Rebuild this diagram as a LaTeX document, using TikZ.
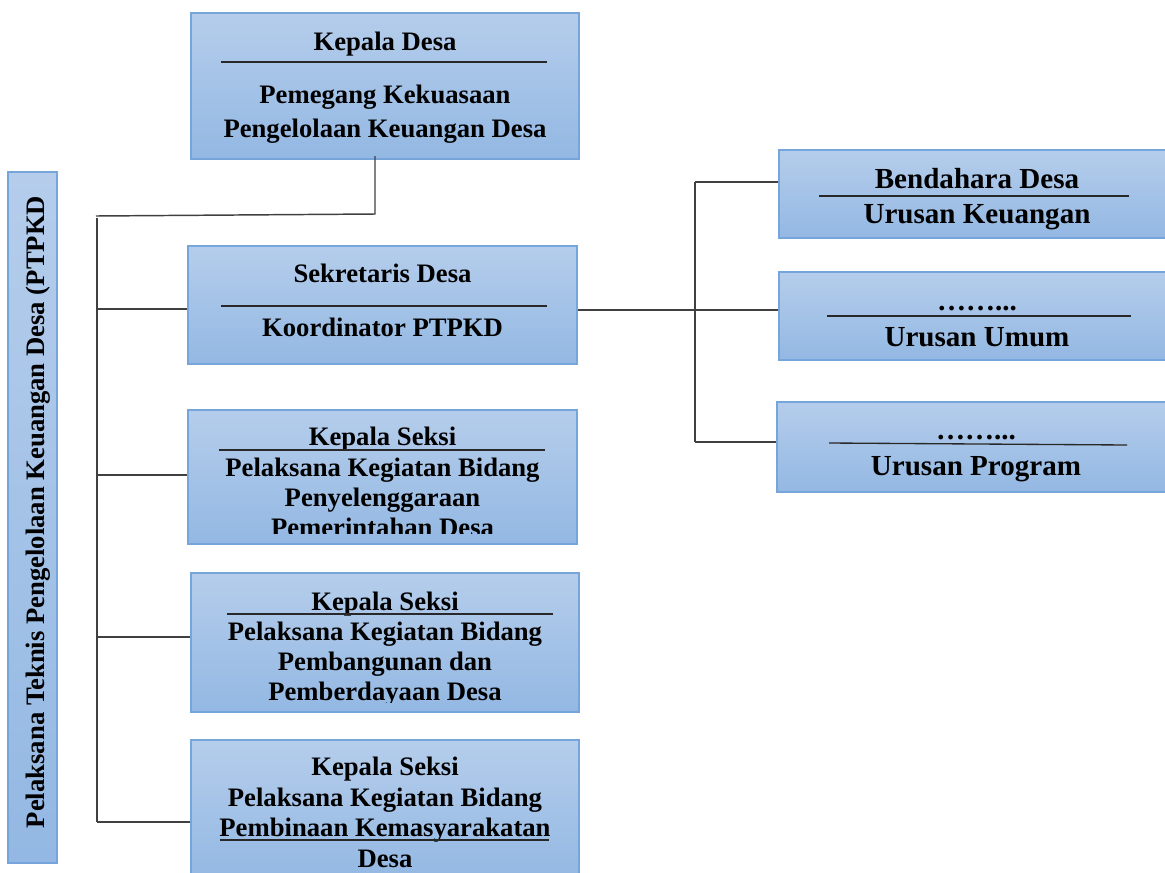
\documentclass[tikz,border=0pt]{standalone}
\usepackage{fontspec}
\setmainfont{Liberation Serif}
\definecolor{boxtop}{RGB}{181,205,235}
\definecolor{boxbot}{RGB}{147,184,227}
\definecolor{boxedge}{RGB}{118,165,219}
\definecolor{wirecol}{RGB}{64,64,64}
\definecolor{rulecol}{RGB}{40,40,40}
\begin{document}
\begin{tikzpicture}[x=0.75pt,y=-0.75pt,
  box/.style={rectangle, inner sep=0pt, draw=boxedge, line width=1.1pt,
              top color=boxtop, bottom color=boxbot},
  ltxt/.style={anchor=base, inner sep=0pt, font=\fontsize{20}{24}\selectfont\bfseries},
  rtxt/.style={anchor=base, inner sep=0pt, font=\fontsize{21.8}{26}\selectfont\bfseries},
  sepline/.style={draw=rulecol, line width=1pt},
  link/.style={draw=wirecol, line width=1.1pt}]
\useasboundingbox (0,0) rectangle (1165,872);

% side banner
\node[box, minimum width=36.75pt, minimum height=518.25pt] (pt) at (32.5,517.5) {};
\node[ltxt, rotate=90] (ptt) at (45,512) {Pelaksana Teknis Pengelolaan Keuangan Desa (PTPKD};

% head of village
\node[box, minimum width=291pt, minimum height=109.5pt] (kd) at (385,86) {};
\node[ltxt] (kd1) at (385,50) {Kepala Desa};
\draw[sepline] (221,62) -- (547,62);
\node[ltxt] (kd2) at (385,103) {Pemegang Kekuasaan};
\node[ltxt] (kd3) at (385,137) {Pengelolaan Keuangan Desa};

% secretary
\node[box, minimum width=291.75pt, minimum height=88.5pt] (sd) at (382.5,305) {};
\node[ltxt] (sd1) at (382.5,282) {Sekretaris Desa};
\draw[sepline] (221,306) -- (547,306);
\node[ltxt] (sd2) at (382.5,336) {Koordinator PTPKD};

% section head: government affairs
\node[box, minimum width=291.75pt, minimum height=100.5pt] (ks1) at (382.5,477) {};
\begin{scope}
  \clip (188,410) rectangle (577,533);
  \node[ltxt] (ks1a) at (382.5,445) {Kepala Seksi};
  \node[ltxt] (ks1b) at (382.5,476) {Pelaksana Kegiatan Bidang};
  \node[ltxt] (ks1c) at (382.5,506) {Penyelenggaraan};
  \node[ltxt] (ks1d) at (382.5,536) {Pemerintahan Desa};
\end{scope}
\draw[sepline] (219,450) -- (545,450);

% section head: development
\node[box, minimum width=291pt, minimum height=104.25pt] (ks2) at (385,642.5) {};
\begin{scope}
  \clip (191,573) rectangle (579,702);
  \node[ltxt] (ks2a) at (385,610) {Kepala Seksi};
  \node[ltxt] (ks2b) at (385,640) {Pelaksana Kegiatan Bidang};
  \node[ltxt] (ks2c) at (385,670) {Pembangunan dan};
  \node[ltxt] (ks2d) at (385,700) {Pemberdayaan Desa};
\end{scope}
\draw[sepline] (227,614) -- (553,614);

% section head: community
\node[box, minimum width=291pt, minimum height=105pt] (ks3) at (385,810) {};
\node[ltxt] (ks3a) at (385,775) {Kepala Seksi};
\node[ltxt] (ks3b) at (385,806) {Pelaksana Kegiatan Bidang};
\node[ltxt] (ks3c) at (385,836) {Pembinaan Kemasyarakatan};
\node[ltxt] (ks3d) at (385,867) {Desa};
\draw[sepline] (220,840) -- (549,840);

% right column
\node[box, minimum width=297pt, minimum height=66pt] (bd) at (977,194) {};
\node[rtxt] (bd1) at (977,188) {Bendahara Desa};
\draw[sepline] (819,196) -- (1129,196);
\node[rtxt] (bd2) at (977,223) {Urusan Keuangan};

\node[box, minimum width=297pt, minimum height=66pt] (uu) at (977,316) {};
\node[rtxt] (uu1) at (977,310) {……...};
\draw[sepline] (827,316) -- (1131,316);
\node[rtxt] (uu2) at (977,346) {Urusan Umum};

\node[box, minimum width=298.5pt, minimum height=67.5pt] (up) at (976,447) {};
\node[rtxt] (up1) at (976,439) {……...};
\draw[sepline] (829,443) -- (1127,445);
\node[rtxt] (up2) at (976,475) {Urusan Program};

% left bus
\coordinate (kdd) at (375,156);
\coordinate (kdc) at (375,214);
\coordinate (bt) at (96,216);
\coordinate (b0) at (97,218);
\coordinate (b2) at (97,309);
\coordinate (b3) at (97,475);
\coordinate (b4) at (97,637);
\coordinate (b5) at (97,822);
\draw[link] (kdd) -- (kdc) -- (bt);
\draw[link] (b0) -- (b5);
\draw[link] (b2) -- (b2 -| sd.west);
\draw[link] (b3) -- (b3 -| ks1.west);
\draw[link] (b4) -- (b4 -| ks2.west);
\draw[link] (b5) -- (b5 -| ks3.west);

% right bus
\coordinate (r0) at (695,310);
\coordinate (r1) at (695,182);
\coordinate (r2) at (695,310);
\coordinate (r3) at (695,442);
\draw[link] (sd.east |- r0) -- (r0);
\draw[link] (r1) -- (r3);
\draw[link] (r1) -- (r1 -| bd.west);
\draw[link] (r2) -- (r2 -| uu.west);
\draw[link] (r3) -- (r3 -| up.west);
\end{tikzpicture}
\end{document}
